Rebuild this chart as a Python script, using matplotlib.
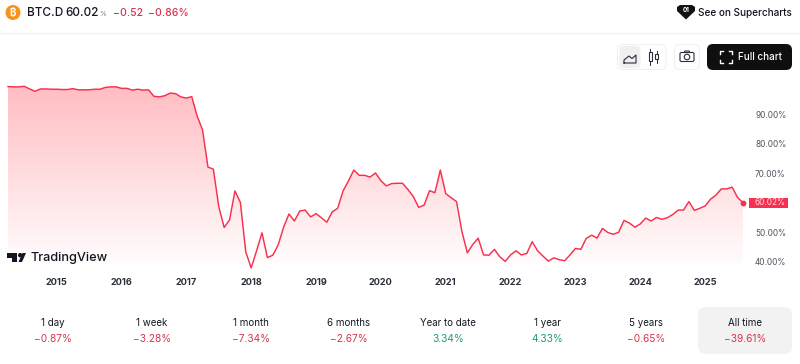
import numpy as np
import pandas as pd
import matplotlib
matplotlib.use('Agg')
import matplotlib.pyplot as plt
from matplotlib.patches import FancyBboxPatch, Rectangle, Polygon, Circle, Ellipse

plt.rcParams['font.family'] = ['Inter', 'DejaVu Sans']

# Monthly BTC dominance, April 2014 to August 2025
btc_d = [
    99.4, 99.3, 99.3, 99.5, 98.6, 97.8, 98.6, 98.6, 98.5, 98.5, 98.4, 98.4,
    98.7, 98.3, 98.3, 98.3, 98.5, 98.5, 99.1, 99.3, 99.3, 98.8, 98.8, 98.2,
    98.5, 98.2, 98.3, 96.1, 95.9, 96.3, 97.2, 97.0, 95.9, 95.5, 96.0, 89.4,
    84.7, 72.1, 71.4, 58.7, 51.6, 54.2, 64.0, 60.1, 43.3, 37.9, 43.7, 49.8,
    41.4, 42.2, 45.7, 51.7, 56.2, 53.8, 57.2, 57.5, 55.2, 56.3, 54.9, 53.4,
    56.9, 58.1, 64.0, 67.4, 71.1, 69.3, 69.3, 68.7, 70.1, 67.5, 65.7, 66.5,
    66.6, 66.6, 64.5, 62.1, 58.4, 59.2, 64.1, 63.4, 71.1, 63.1, 61.7, 60.4,
    50.2, 43.0, 45.8, 48.0, 42.3, 42.2, 44.2, 41.7, 40.1, 42.3, 43.7, 42.3,
    42.8, 46.8, 43.7, 41.9, 40.2, 41.3, 40.7, 40.3, 42.3, 44.5, 44.2, 47.9,
    49.0, 48.0, 51.3, 49.9, 49.3, 50.0, 54.0, 53.1, 51.7, 52.8, 54.8, 53.8,
    55.0, 54.4, 54.9, 56.0, 57.5, 57.5, 60.4, 57.4, 58.1, 58.9, 61.2, 62.6,
    64.7, 64.7, 65.3, 61.8, 60.02,
]
# 60% sits behind the last value tag in the reference
y_ticks = [40, 50, 70, 80, 90]
periods = ['1 day', '1 week', '1 month', '6 months', 'Year to date', '1 year', '5 years', 'All time']
changes = ['−0.87%', '−3.28%', '−7.34%', '−2.67%', '3.34%', '4.33%', '−0.65%', '−39.61%']

RED = '#f7304f'
TEXT_RED = '#d8344f'
GREEN = '#229a80'
DARK = '#131722'

months = pd.date_range('2014-04-01', periods=len(btc_d), freq='MS')
x = np.arange(len(btc_d))
jan = [i for i, m in enumerate(months) if m.month == 1]

fig = plt.figure(figsize=(8, 3.64), dpi=100)

# Chart area, placed in pixels so the scales line up with the screenshot
ax = fig.add_axes([0, 1 - 274 / 364, 750 / 800, 234 / 364])
grad = np.zeros((256, 1, 4))
grad[:, 0, 0] = 1.0
grad[:, 0, 1] = np.linspace(0.74, 1.0, 256)
grad[:, 0, 2] = np.linspace(0.76, 1.0, 256)
grad[:, 0, 3] = 1.0
ymin, ymax = 35.83, 115.2
poly = ax.fill_between(x, btc_d, 37.0, color='none')
im = ax.imshow(grad, extent=[x[0], x[-1], 37.0, 100.0], aspect='auto', origin='upper', zorder=1)
im.set_clip_path(poly.get_paths()[0], transform=ax.transData)
ax.plot(x, btc_d, color=RED, lw=1.05, zorder=3, solid_joinstyle='round')
ax.plot(x[-1], btc_d[-1], 'o', color=RED, ms=3.2, zorder=4)
ax.set_xlim(-8 / 5.404, 742 / 5.404)
ax.set_ylim(ymin, ymax)
ax.set_xticks(jan)
ax.set_xticklabels([str(months[i].year) for i in jan], fontsize=6.6, fontweight='bold', color='#2a2e39')
ax.set_yticks(y_ticks)
ax.set_yticklabels([f'{v:.2f}%' for v in y_ticks], fontsize=5.9, color='#50535e')
ax.yaxis.tick_right()
ax.tick_params(axis='both', length=0)
ax.tick_params(axis='x', pad=3)
ax.tick_params(axis='y', pad=3.6)
for s in ax.spines.values():
    s.set_visible(False)

# Overlay in pixel coordinates for the page furniture
ui = fig.add_axes([0, 0, 1, 1], zorder=5)
ui.set_xlim(0, 800)
ui.set_ylim(364, 0)
ui.axis('off')
ui.patch.set_alpha(0)


def rbox(x0, y0, w, h, r, fc, ec='none', lw=0):
    ui.add_patch(FancyBboxPatch((x0 + r, y0 + r), w - 2 * r, h - 2 * r,
                                boxstyle=f'round,pad={r}', fc=fc, ec=ec, lw=lw))


# Header
ui.add_patch(Circle((13, 12.5), 7.5, fc='#f7931a', ec='none'))
ui.text(13, 12.8, '₿', color='white', fontsize=7, fontweight='bold', ha='center', va='center')
ui.text(26.5, 12.5, 'BTC.D', fontsize=8.5, color=DARK, va='center', fontweight='medium')
ui.text(65.5, 12.5, '60.02', fontsize=8.5, color=DARK, va='center', fontweight='medium')
ui.text(99, 13.8, '%', fontsize=5, color='#787b86', va='center')
ui.text(113.5, 12.5, '−0.52', fontsize=7.5, color=TEXT_RED, va='center', fontweight='medium')
ui.text(148, 12.5, '−0.86%', fontsize=7.5, color=TEXT_RED, va='center', fontweight='medium')
ui.plot([0, 800], [32.5, 32.5], color='#f0f0f0', lw=0.9)

# See on Supercharts
ui.add_patch(Polygon([[677, 7], [680, 5], [692, 5], [695, 7], [695, 11], [686, 19.5], [677, 11]],
                     closed=True, fc='#131313', ec='none'))
ui.text(686, 10.5, '01', fontsize=4.5, color='white', ha='center', va='center', fontweight='bold')
ui.text(697.5, 12.5, 'See on Supercharts', fontsize=7.2, color=DARK, va='center', fontweight='medium')

# Chart style buttons
rbox(617.5, 44.5, 48.5, 25, 5, 'white', '#f0f0f0', 0.8)
rbox(619.5, 46, 21, 22, 4, '#f0f0f0')
ui.plot([624, 624, 629, 632, 636, 636, 624], [63, 60, 56, 58.5, 55, 63, 63], color='#2a2e39', lw=0.8)
ui.plot([650, 650], [49, 65], color='#2a2e39', lw=0.7)
ui.add_patch(Rectangle((648.5, 52), 3, 9, fc='white', ec='#2a2e39', lw=0.8, zorder=3))
ui.plot([656.5, 656.5], [51, 63], color='#2a2e39', lw=0.7)
ui.add_patch(Rectangle((655, 54), 3, 5, fc='white', ec='#2a2e39', lw=0.8, zorder=3))
rbox(674.5, 44.5, 25, 25, 5, 'white', '#f0f0f0', 0.8)
ui.add_patch(FancyBboxPatch((681.5, 54), 11, 6, boxstyle='round,pad=1.5', fc='white', ec='#2a2e39', lw=0.8))
ui.plot([684, 685, 689, 690], [52.5, 51, 51, 52.5], color='#2a2e39', lw=0.8)
ui.add_patch(Ellipse((687, 57), 5.5, 5.5, fc='white', ec='#2a2e39', lw=0.8))
rbox(707, 44, 85, 26, 6, '#0f0f0f')
for cx, cy, dx, dy in [(720, 51, 1, 1), (732, 51, -1, 1), (720, 63, 1, -1), (732, 63, -1, -1)]:
    ui.plot([cx, cx, cx + 3 * dx], [cy + 3 * dy, cy, cy], color='white', lw=1.0)
ui.text(738, 57, 'Full chart', fontsize=7.1, color='white', va='center', fontweight='medium')

# Last value tag
ui.add_patch(Rectangle((749, 198), 39, 9.5, fc=RED, ec='none'))
ui.text(770, 202.8, f'{btc_d[-1]:.2f}%', fontsize=5.9, color='#ffd9df', ha='center', va='center')

# TradingView logo
ui.add_patch(Polygon([[7, 253], [17, 253], [17, 262], [11.5, 262], [11.5, 257.5], [7, 257.5]],
                     closed=True, fc=DARK, ec='none'))
ui.add_patch(Circle((20.2, 255.2), 2.2, fc=DARK, ec='none'))
ui.add_patch(Polygon([[22.5, 253], [26, 253], [22, 262], [18.5, 262]], closed=True, fc=DARK, ec='none'))
ui.text(30.5, 257.7, 'TradingView', fontsize=9.2, color=DARK, va='center', fontweight='medium')

# Performance strip
rbox(698, 307, 94, 47, 8, '#f2f2f2')
centers = [53, 152, 251, 349, 448, 547, 646, 745]
for c, p, v in zip(centers, periods, changes):
    ui.text(c, 323, p, fontsize=7.0, color=DARK, ha='center', va='center')
    ui.text(c, 338.5, v, fontsize=7.3, color=TEXT_RED if v.startswith('−') else GREEN, ha='center', va='center')

fig.savefig('out.png', dpi=100)
